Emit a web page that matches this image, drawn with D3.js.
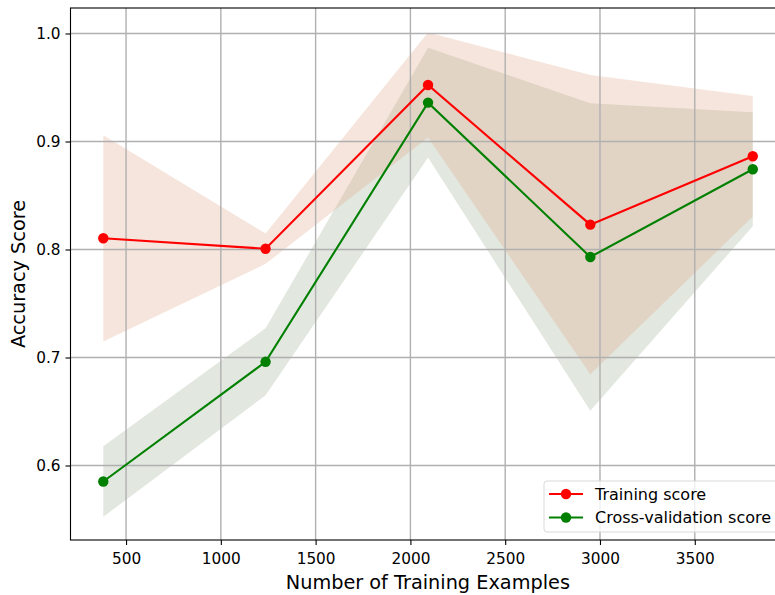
<!DOCTYPE html>
<html>
<head>
<meta charset="utf-8">
<script src="https://cdn.jsdelivr.net/npm/d3@7"></script>
<style>
  html, body { margin: 0; padding: 0; background: #fff; }
  svg { display: block; font-family: "DejaVu Sans", sans-serif; }
</style>
</head>
<body>
<svg id="chart" width="775" height="595"></svg>
<script>
// Learning curve: training sizes, mean scores and standard deviations
const trainSizes = [380, 1236, 2093, 2949, 3806];
const trainMean  = [0.8104, 0.8007, 0.9523, 0.8230, 0.8863];
const trainStd   = [0.0955, 0.0140, 0.0487, 0.1386, 0.0558];
const testMean   = [0.5852, 0.6960, 0.9360, 0.7931, 0.8743];
const testStd    = [0.0327, 0.0310, 0.0509, 0.1423, 0.0527];

const xTicks = [500, 1000, 1500, 2000, 2500, 3000, 3500];
const yTicks = [0.6, 0.7, 0.8, 0.9, 1.0];
const legendLabels = ["Training score", "Cross-validation score"];

const svg = d3.select("#chart");
const plotLeft = 70.5, plotRight = 785.2, plotTop = 8, plotBottom = 540;

const x = d3.scaleLinear().domain([207, 3977]).range([plotLeft, plotRight]);
const y = d3.scaleLinear().domain([0.53102, 1.02361]).range([plotBottom, plotTop]);

const trainRows = trainSizes.map((s, i) => ({ s, m: trainMean[i], sd: trainStd[i] }));
const testRows  = trainSizes.map((s, i) => ({ s, m: testMean[i],  sd: testStd[i] }));

const band = d3.area().x(d => x(d.s)).y0(d => y(d.m - d.sd)).y1(d => y(d.m + d.sd));
const line = d3.line().x(d => x(d.s)).y(d => y(d.m));

// Uncertainty bands (drawn beneath the grid)
svg.append("path").datum(testRows).attr("d", band)
  .attr("fill", "rgb(110,135,95)").attr("fill-opacity", 0.2);
svg.append("path").datum(trainRows).attr("d", band)
  .attr("fill", "rgb(225,168,138)").attr("fill-opacity", 0.3);

// Grid
const grid = svg.append("g").attr("stroke", "#b0b0b0").attr("stroke-width", 1.4);
grid.selectAll("line.gx").data(xTicks).join("line")
  .attr("x1", d => x(d)).attr("x2", d => x(d)).attr("y1", plotTop).attr("y2", plotBottom);
grid.selectAll("line.gy").data(yTicks).join("line")
  .attr("y1", d => y(d)).attr("y2", d => y(d)).attr("x1", plotLeft).attr("x2", plotRight);

// Axes
const xAxis = d3.axisBottom(x).tickValues(xTicks).tickFormat(d3.format("d")).tickSize(5).tickPadding(5);
const yAxis = d3.axisLeft(y).tickValues(yTicks).tickFormat(d3.format(".1f")).tickSize(5).tickPadding(5);

const gx = svg.append("g").attr("transform", `translate(0,${plotBottom})`).call(xAxis);
const gy = svg.append("g").attr("transform", `translate(${plotLeft},0)`).call(yAxis);
[gx, gy].forEach(g => {
  g.select(".domain").remove();
  g.selectAll(".tick line").attr("stroke", "#000").attr("stroke-width", 1.1);
  g.selectAll(".tick text").attr("fill", "#000").style("font-size", "15.3px")
    .style("font-family", "'DejaVu Sans', sans-serif");
});
gx.selectAll(".tick text").attr("dy", "0.9em");

// Spines
svg.append("rect").attr("x", plotLeft).attr("y", plotTop)
  .attr("width", plotRight - plotLeft).attr("height", plotBottom - plotTop)
  .attr("fill", "none").attr("stroke", "#000").attr("stroke-width", 1.1);

// Score lines with markers
const series = [
  { rows: trainRows, color: "#ff0000" },
  { rows: testRows,  color: "#008000" }
];
series.forEach(sr => {
  svg.append("path").datum(sr.rows).attr("d", line)
    .attr("fill", "none").attr("stroke", sr.color).attr("stroke-width", 2.1);
  svg.append("g").selectAll("circle").data(sr.rows).join("circle")
    .attr("cx", d => x(d.s)).attr("cy", d => y(d.m)).attr("r", 5.2)
    .attr("fill", sr.color);
});

// Axis titles
svg.append("text").attr("x", (plotLeft + plotRight) / 2).attr("y", 589)
  .attr("text-anchor", "middle").style("font-size", "19.3px").text("Number of Training Examples");
svg.append("text").attr("transform", `translate(25,${(plotTop + plotBottom) / 2}) rotate(-90)`)
  .attr("text-anchor", "middle").style("font-size", "19.3px").text("Accuracy Score");

// Legend
const lg = svg.append("g");
lg.append("rect").attr("x", 544).attr("y", 481).attr("width", 234).attr("height", 51)
  .attr("rx", 3).attr("fill", "#fff").attr("fill-opacity", 0.8)
  .attr("stroke", "#d9d9d9").attr("stroke-width", 1);
series.forEach((sr, i) => {
  const cy = 494 + i * 23.5;
  lg.append("line").attr("x1", 549).attr("x2", 583).attr("y1", cy).attr("y2", cy)
    .attr("stroke", sr.color).attr("stroke-width", 2.1);
  lg.append("circle").attr("cx", 566).attr("cy", cy).attr("r", 5.2).attr("fill", sr.color);
  lg.append("text").attr("x", 595).attr("y", cy).attr("dy", "0.35em")
    .style("font-size", "16px").text(legendLabels[i]);
});
</script>
</body>
</html>
